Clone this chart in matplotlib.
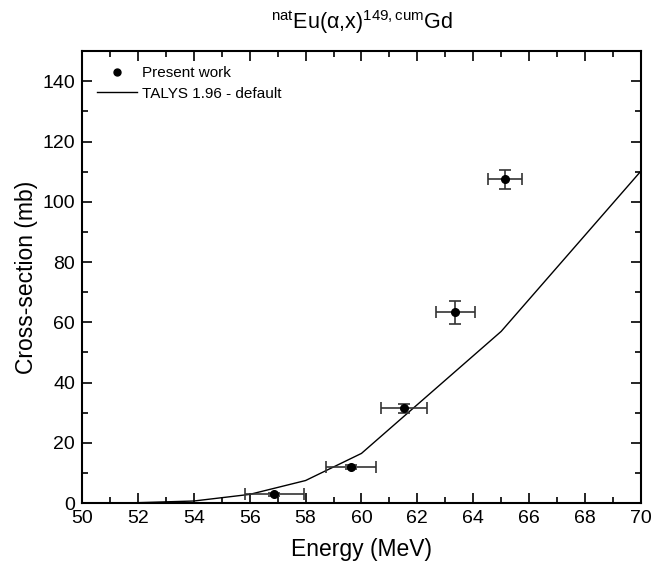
import matplotlib
matplotlib.use("Agg")
import matplotlib.pyplot as plt
from matplotlib.ticker import MultipleLocator
from matplotlib.lines import Line2D

plt.rcParams['font.family'] = ['Liberation Sans', 'DejaVu Sans']
plt.rcParams['mathtext.fontset'] = 'custom'
plt.rcParams['mathtext.rm'] = 'Liberation Sans'
plt.rcParams['mathtext.it'] = 'Liberation Sans:italic'

# Experimental data
exp_energy = [56.88, 59.62, 61.52, 63.35, 65.13]
exp_energy_err = [1.05, 0.90, 0.81, 0.70, 0.61]
exp_xs = [2.9, 11.9, 31.5, 63.3, 107.5]
exp_xs_err = [0.4, 0.6, 1.5, 3.8, 3.2]

# TALYS 1.96 default
talys_energy = [51, 52, 54, 56, 58, 60, 65, 70]
talys_xs = [0.05, 0.15, 0.7, 2.9, 7.5, 16.5, 57.0, 110.2]

fig = plt.figure(figsize=(6.56, 5.75), dpi=100)
ax = fig.add_axes([0.125, 0.125, 0.852, 0.786])

ax.plot(talys_energy, talys_xs, color='black', lw=1.0)
ax.errorbar(exp_energy, exp_xs, xerr=exp_energy_err, yerr=exp_xs_err, fmt='o',
            color='black', ms=5.5, ecolor='#333333', elinewidth=1.2, capsize=4,
            capthick=1.2)

ax.set_xlim(50, 70)
ax.set_ylim(0, 150)
ax.xaxis.set_major_locator(MultipleLocator(2))
ax.xaxis.set_minor_locator(MultipleLocator(1))
ax.yaxis.set_minor_locator(MultipleLocator(10))
ax.set_yticks(range(0, 141, 20))
ax.tick_params(which='both', direction='in', top=True, right=True, width=1.2)
ax.tick_params(which='major', length=7, labelsize=14, pad=5)
ax.tick_params(which='minor', length=4)
for s in ax.spines.values():
    s.set_linewidth(1.5)

ax.set_xlabel('Energy (MeV)', fontsize=16.5, labelpad=8)
ax.set_ylabel('Cross-section (mb)', fontsize=16.5, labelpad=3)
ax.set_title(r'$^{\mathrm{nat}}$Eu(α,x)$^{\mathrm{149,cum}}$Gd', fontsize=15.5, pad=16)

h_exp = Line2D([], [], ls='none', marker='o', color='black', ms=5)
h_tal = Line2D([], [], color='black', lw=1.0)
ax.legend([h_exp, h_tal], ['Present work', 'TALYS 1.96 - default'],
          loc='upper left', frameon=False, fontsize=11, handlelength=2.6,
          handletextpad=0.3, borderaxespad=0.6, labelspacing=0.4)

fig.savefig('out.png', dpi=100)
